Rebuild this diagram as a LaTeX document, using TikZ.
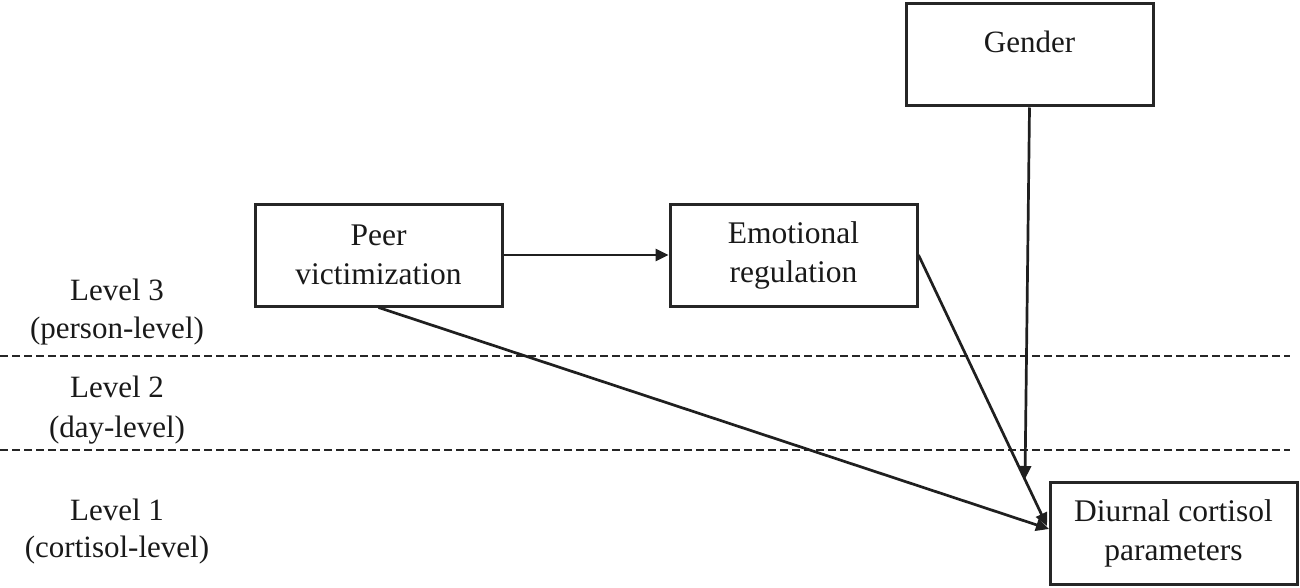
\documentclass[tikz,border=0pt]{standalone}
\usepackage{fontspec}
\setmainfont{Liberation Serif}
\usetikzlibrary{arrows.meta}
\begin{document}
\begin{tikzpicture}[x=1pt,y=-1pt,
  box/.style={draw=black!85, line width=3pt, minimum width=247pt, minimum height=102pt, inner sep=0pt, align=center, font=\fontsize{31.5}{39}\selectfont},
  txt/.style={inner sep=0pt, anchor=base, font=\fontsize{31}{38}\selectfont, text=black!90},
  conn/.style={draw=black!88, line width=2.7pt, -{Triangle[length=13pt,width=12pt]}},
  levelline/.style={draw=black!85, line width=2.3pt, dash pattern=on 8pt off 4pt}]
\useasboundingbox (0,0) rectangle (1300,588);

% level separators
\coordinate (d1s) at (0,356);
\coordinate (d1e) at (1290,356);
\coordinate (d2s) at (0,450);
\coordinate (d2e) at (1290,450);
\draw[levelline] (d1s) -- (d1e);
\draw[levelline] (d2s) -- (d2e);

% level labels
\node[txt] (l3a) at (117,300) {Level 3};
\node[txt] (l3b) at (117,338) {(person-level)};
\node[txt] (l2a) at (117,397) {Level 2};
\node[txt] (l2b) at (117,437) {(day-level)};
\node[txt] (l1a) at (117,520) {Level 1};
\node[txt] (l1b) at (117,557) {(cortisol-level)};

% boxes
\node[box, text=black!90] (peer) at (378.5,255) {Peer\\victimization};
\node[box, text=black!90] (emo) at (793.5,255) {Emotional\\regulation};
\node[box, text=black!90] (diur) at (1173.5,533.5) {Diurnal cortisol\\parameters};
\node[box] (gender) at (1029.5,55) {};
\node[txt] (gendertxt) at (1029.5,53) {Gender};

% arrow end points
\coordinate (gtip) at (1025,479);
\coordinate (ptip) at (1049,529);
\coordinate (etip) at (1047,526);

% connectors
\draw[conn] (peer.east) -- (emo.west);
\draw[conn] (peer.south) -- (ptip);
\draw[conn] (emo.east) -- (etip);
\draw[conn] (gender.south) -- (gtip);
\end{tikzpicture}
\end{document}
